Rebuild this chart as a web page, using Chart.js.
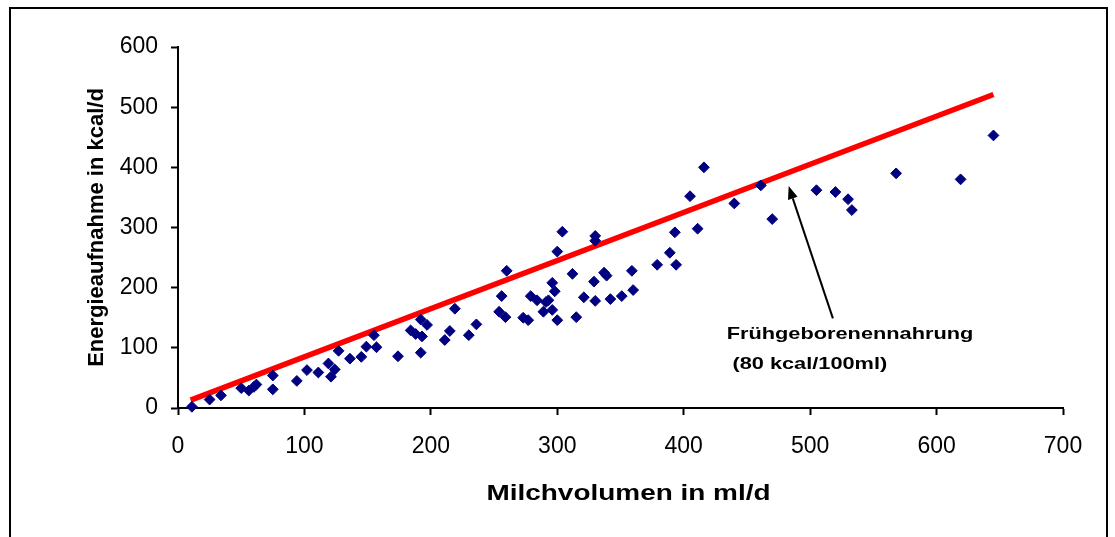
<!DOCTYPE html>
<html><head><meta charset="utf-8">
<script src="https://cdn.jsdelivr.net/npm/chart.js@4.4.1/dist/chart.umd.min.js"></script>
<style>html,body{margin:0;padding:0;background:#fff;}#wrap{width:1115px;height:537px;position:relative;}</style>
</head><body><div id="wrap"><canvas id="c" width="1115" height="537"></canvas></div>
<script>
// Milk volume (ml/d) and energy intake (kcal/d) per observation
const milkVolume = [11,25,34,50,56,60,62,75,75,94,102,111,119,121,124,127,136,145,149,155,157,174,
  184,188,192,197,193,192,211,215,219,230,236,254,256,259,260,273,277,279,284,289,291,293,296,296,298,300,300,304,312,315,321,329,330,330,330,337,339,342,351,359,360,
  379,389,393,394,405,411,416,440,461,470,505,520,530,533,568,619,645];
const energyIntake = [2,14,21,33,29,35,39,54,31,45,63,59,74,52,64,95,82,85,102,121,101,86,
  129,123,147,138,119,92,113,128,165,121,139,160,186,151,228,150,146,186,179,160,176,179,208,163,194,146,260,293,223,151,184,210,286,278,178,225,220,181,186,228,196,
  238,258,292,238,352,298,400,340,370,314,362,359,347,329,390,380,453];
// Reference line: preterm formula (80 kcal/100 ml)
const refLineX = [10, 645];
const refLineY = [13, 521];
const xTicks = [0,100,200,300,400,500,600,700];
const yTicks = [0,100,200,300,400,500,600];
const xTitle = 'Milchvolumen in ml/d';
const yTitle = 'Energieaufnahme in kcal/d';
const noteLines = ['Frühgeborenennahrung', '(80 kcal/100ml)'];
const noteX = [434, 438.5];
const noteY = [115.5, 65.6];
const arrowFrom = [518, 149];
const arrowTo = [483, 369];

const FONT = "'Liberation Sans', Arial, sans-serif";

const extras = {
  id: 'extras',
  afterDraw(chart) {
    const ctx = chart.ctx, xs = chart.scales.x, ys = chart.scales.y;
    ctx.save();
    // outer frame
    ctx.strokeStyle = '#000'; ctx.lineWidth = 2;
    ctx.strokeRect(10, 8, 1097, 560);
    // arrow
    const x1 = xs.getPixelForValue(arrowFrom[0]), y1 = ys.getPixelForValue(arrowFrom[1]);
    const x2 = xs.getPixelForValue(arrowTo[0]), y2 = ys.getPixelForValue(arrowTo[1]);
    const ang = Math.atan2(y2 - y1, x2 - x1), hl = 13, hw = 5;
    const bx = x2 - hl * Math.cos(ang), by = y2 - hl * Math.sin(ang);
    ctx.beginPath(); ctx.moveTo(x1, y1); ctx.lineTo(bx, by); ctx.lineWidth = 2; ctx.stroke();
    ctx.beginPath(); ctx.moveTo(x2, y2);
    ctx.lineTo(bx + hw * Math.sin(ang), by - hw * Math.cos(ang));
    ctx.lineTo(bx - hw * Math.sin(ang), by + hw * Math.cos(ang));
    ctx.closePath(); ctx.fillStyle = '#000'; ctx.fill();
    // note text
    ctx.font = 'bold 17px ' + FONT; ctx.textAlign = 'left'; ctx.textBaseline = 'alphabetic';
    noteLines.forEach((t, i) => {
      ctx.save();
      ctx.translate(xs.getPixelForValue(noteX[i]), ys.getPixelForValue(noteY[i]));
      ctx.scale(1.28, 1);
      ctx.fillText(t, 0, 0);
      ctx.restore();
    });
    // x axis title
    ctx.font = 'bold 22px ' + FONT; ctx.textAlign = 'center'; ctx.textBaseline = 'middle';
    ctx.translate((xs.left + xs.right) / 2 + 8, 494);
    ctx.scale(1.27, 1);
    ctx.fillText(xTitle, 0, 0);
    ctx.restore();
  }
};

new Chart(document.getElementById('c'), {
  type: 'scatter',
  data: {
    datasets: [
      {
        label: 'Messwerte',
        data: milkVolume.map((v, i) => ({x: v, y: energyIntake[i]})),
        pointStyle: 'rectRot', pointRadius: 5.4, pointHoverRadius: 5.4,
        backgroundColor: '#000080', borderColor: '#000080', borderWidth: 1,
        clip: false, order: 1
      },
      {
        type: 'line',
        label: 'Frühgeborenennahrung',
        data: refLineX.map((v, i) => ({x: v, y: refLineY[i]})),
        borderColor: '#ff0000', borderWidth: 5.5, pointRadius: 0, fill: false,
        showLine: true, clip: false, order: 2
      }
    ]
  },
  options: {
    responsive: false, animation: false, devicePixelRatio: 1,
    layout: {padding: {left: 0, top: 47, right: 52, bottom: 0}},
    plugins: {legend: {display: false}, tooltip: {enabled: false}},
    scales: {
      x: {
        type: 'linear', min: 0, max: 700,
        afterBuildTicks: s => { s.ticks = xTicks.map(v => ({value: v})); },
        afterFit: s => { s.height = 129; },
        grid: {display: true, drawOnChartArea: false, drawTicks: true, tickLength: 7, tickWidth: 2, tickColor: '#000'},
        border: {display: true, color: '#000', width: 2},
        ticks: {color: '#000', padding: 18, maxRotation: 0, font: {family: FONT, size: 23}},
        title: {display: false}
      },
      y: {
        type: 'linear', min: 0, max: 600,
        afterBuildTicks: s => { s.ticks = yTicks.map(v => ({value: v})); },
        afterFit: s => { s.width = 178; },
        grid: {display: true, drawOnChartArea: false, drawTicks: true, tickLength: 7, tickWidth: 2, tickColor: '#000'},
        border: {display: true, color: '#000', width: 2},
        ticks: {color: '#000', padding: 13, font: {family: FONT, size: 23}},
        title: {display: true, text: yTitle, color: '#000', padding: {top: 84, bottom: 0},
          font: {family: FONT, size: 22, weight: 'bold'}}
      }
    }
  },
  plugins: [extras]
});
</script></body></html>
